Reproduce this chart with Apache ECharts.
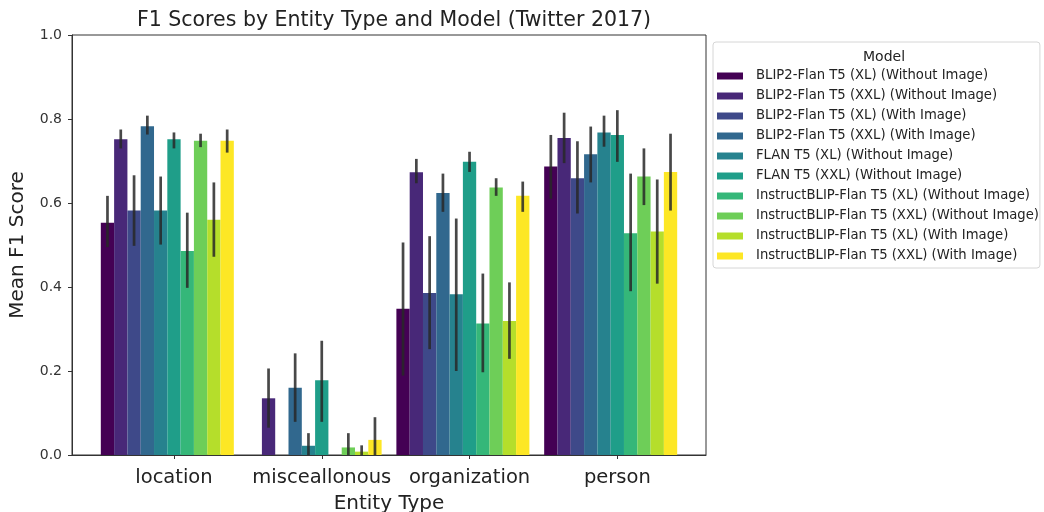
<!DOCTYPE html>
<html>
<head>
<meta charset="utf-8">
<script src="https://cdn.jsdelivr.net/npm/echarts@6/dist/echarts.min.js"></script>
<style>
  html, body { margin: 0; padding: 0; background: #fff; }
  #main { width: 1044px; height: 512px; }
</style>
</head>
<body>
<div id="main"></div>
<script>
// categories on the x axis
const entityTypes = ['location', 'misceallonous', 'organization', 'person'];

// hue levels (models)
const models = [
  'BLIP2-Flan T5 (XL) (Without Image)',
  'BLIP2-Flan T5 (XXL) (Without Image)',
  'BLIP2-Flan T5 (XL) (With Image)',
  'BLIP2-Flan T5 (XXL) (With Image)',
  'FLAN T5 (XL) (Without Image)',
  'FLAN T5 (XXL) (Without Image)',
  'InstructBLIP-Flan T5 (XL) (Without Image)',
  'InstructBLIP-Flan T5 (XXL) (Without Image)',
  'InstructBLIP-Flan T5 (XL) (With Image)',
  'InstructBLIP-Flan T5 (XXL) (With Image)'
];
const modelColors = ['#440154', '#482878', '#3e4989', '#31688e', '#26828e',
                     '#1f9e89', '#35b779', '#6ece58', '#b5de2b', '#fde725'];

// mean F1 per entity type, one value per model (same order as models)
const meanLocation = [0.553, 0.752, 0.582, 0.783, 0.582, 0.752, 0.486, 0.748, 0.560, 0.748];
const meanMisc     = [0.0,   0.135, 0.0,   0.160, 0.022, 0.178, 0.0,   0.018, 0.008, 0.036];
const meanOrg      = [0.348, 0.673, 0.386, 0.624, 0.383, 0.698, 0.313, 0.637, 0.319, 0.617];
const meanPerson   = [0.687, 0.755, 0.659, 0.716, 0.768, 0.762, 0.528, 0.663, 0.532, 0.674];

// error bar ends
const lowLocation  = [0.495, 0.730, 0.498, 0.763, 0.501, 0.730, 0.398, 0.733, 0.472, 0.720];
const highLocation = [0.617, 0.775, 0.666, 0.808, 0.663, 0.768, 0.577, 0.765, 0.649, 0.775];
const lowMisc      = [null,  0.065, null,  0.079, 0.0,   0.079, null,  0.0,   0.0,   0.0];
const highMisc     = [null,  0.206, null,  0.242, 0.052, 0.272, null,  0.052, 0.023, 0.090];
const lowOrg       = [0.189, 0.647, 0.252, 0.579, 0.200, 0.674, 0.197, 0.617, 0.229, 0.579];
const highOrg      = [0.506, 0.705, 0.521, 0.670, 0.563, 0.722, 0.432, 0.659, 0.411, 0.651];
const lowPerson    = [0.610, 0.695, 0.575, 0.649, 0.734, 0.698, 0.390, 0.595, 0.408, 0.582];
const highPerson   = [0.762, 0.815, 0.747, 0.782, 0.808, 0.821, 0.670, 0.730, 0.656, 0.765];

const means = [meanLocation, meanMisc, meanOrg, meanPerson];
const lows  = [lowLocation, lowMisc, lowOrg, lowPerson];
const highs = [highLocation, highMisc, highOrg, highPerson];

const barW = 0.09;   // width of one bar in category units
const font = 'DejaVu Sans, Liberation Sans, sans-serif';

let myChart = echarts.init(document.getElementById('main'));

function barSeries(m) {
  let data = [];
  for (let c = 0; c < entityTypes.length; c++) {
    let v = means[c][m];
    let lo = lows[c][m], hi = highs[c][m];
    data.push([c + (m - 5) * barW, v, lo == null ? v : lo, hi == null ? v : hi, lo == null ? 0 : 1]);
  }
  return {
    name: models[m],
    type: 'custom',
    itemStyle: { color: modelColors[m] },
    encode: { x: 0, y: [1, 2, 3] },
    renderItem: function (params, api) {
      let x = api.value(0), v = api.value(1);
      let p0 = api.coord([x - barW / 2, 0]);
      let p1 = api.coord([x + barW / 2, v]);
      let children = [{
        type: 'rect',
        shape: { x: p0[0], y: p1[1], width: p1[0] - p0[0], height: p0[1] - p1[1] },
        style: { fill: modelColors[m] }
      }];
      if (api.value(4)) {   // error bar
        let a = api.coord([x, api.value(2)]);
        let b = api.coord([x, api.value(3)]);
        children.push({
          type: 'line',
          shape: { x1: a[0], y1: a[1], x2: b[0], y2: b[1] },
          style: { stroke: 'rgba(40,40,40,0.85)', lineWidth: 2.7 }
        });
      }
      return { type: 'group', children: children };
    },
    data: data
  };
}

let series = [];
for (let m = 0; m < models.length; m++) series.push(barSeries(m));

let option = {
  animation: false,
  backgroundColor: '#fff',
  textStyle: { fontFamily: font },
  title: [{
    text: 'F1 Scores by Entity Type and Model (Twitter 2017)',
    left: 389, top: 5, textAlign: 'center',
    textStyle: { fontFamily: font, fontSize: 20.5, fontWeight: 'normal', color: '#222' }
  }, {
    text: 'Model',
    left: 879, top: 45, textAlign: 'center',
    textStyle: { fontFamily: font, fontSize: 14, fontWeight: 'normal', color: '#222' }
  }],
  legend: {
    orient: 'vertical',
    left: 713, top: 42,
    z: 1,
    data: models,
    icon: 'rect',
    itemWidth: 26, itemHeight: 7,
    itemGap: 4,
    padding: [26, 1, 4, 4],
    backgroundColor: '#fff',
    borderColor: '#d6d6d6', borderWidth: 1, borderRadius: 3,
    textStyle: { fontFamily: font, fontSize: 13.2, color: '#222', lineHeight: 16, padding: [0, 0, 0, 8] }
  },
  grid: {
    left: 72, right: 338, top: 35, bottom: 57,
    outerBoundsMode: 'none',
    containLabel: false,
    show: true, borderColor: '#333', borderWidth: 1
  },
  xAxis: {
    type: 'value',
    min: -0.69, max: 3.6,
    name: 'Entity Type',
    nameLocation: 'middle',
    nameGap: 39,
    nameTextStyle: { fontFamily: font, fontSize: 20, color: '#222' },
    axisLine: { lineStyle: { color: '#333' } },
    axisTick: { show: true, length: 4, customValues: [0, 1, 2, 3], lineStyle: { color: '#333' } },
    axisLabel: {
      customValues: [0, 1, 2, 3],
      formatter: v => entityTypes[Math.round(v)],
      fontFamily: font, fontSize: 19.5, color: '#222', margin: 13
    },
    splitLine: { show: false }
  },
  yAxis: {
    type: 'value',
    min: 0, max: 1, interval: 0.2,
    name: 'Mean F1 Score',
    nameLocation: 'middle',
    nameGap: 44,
    nameTextStyle: { fontFamily: font, fontSize: 20, color: '#222' },
    axisLine: { show: true, onZero: false, lineStyle: { color: '#333' } },
    axisTick: { show: true, length: 4, lineStyle: { color: '#333' } },
    axisLabel: {
      formatter: v => v.toFixed(1),
      fontFamily: font, fontSize: 14, color: '#333', margin: 10
    },
    splitLine: { show: false }
  },
  series: series
};
myChart.setOption(option);
</script>
</body>
</html>
